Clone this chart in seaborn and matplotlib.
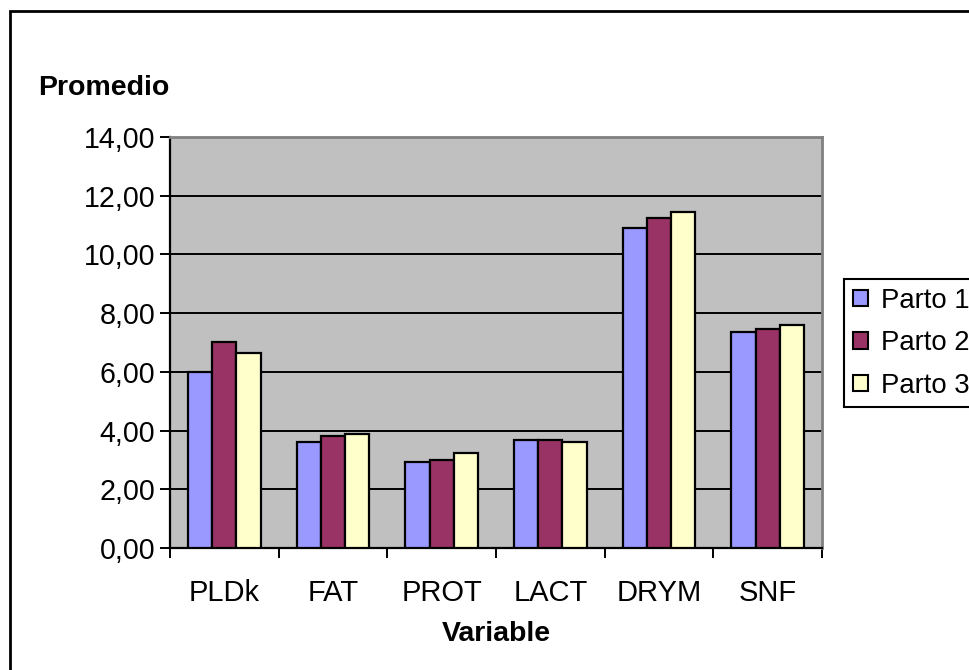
import matplotlib
matplotlib.use("Agg")
import matplotlib.pyplot as plt
import seaborn as sns
import pandas as pd
from matplotlib.patches import Rectangle
from matplotlib.ticker import FuncFormatter, FixedLocator

categories = ["PLDk", "FAT", "PROT", "LACT", "DRYM", "SNF"]
series_names = ["Parto 1", "Parto 2", "Parto 3"]
parto1 = [6.00, 3.62, 2.94, 3.69, 10.91, 7.37]
parto2 = [7.02, 3.83, 3.01, 3.68, 11.25, 7.45]
parto3 = [6.63, 3.89, 3.22, 3.62, 11.45, 7.59]
colors = ["#9999FF", "#993366", "#FFFFCC"]
yticks = [0, 2, 4, 6, 8, 10, 12, 14]

rows = []
for name, vals in zip(series_names, [parto1, parto2, parto3]):
    for c, v in zip(categories, vals):
        rows.append({"Variable": c, "Serie": name, "Promedio": v})
df = pd.DataFrame(rows)

sns.set_style("white")
plt.rcParams["font.family"] = ["Liberation Sans", "DejaVu Sans"]
plt.rcParams["text.color"] = "black"
plt.rcParams["xtick.color"] = "black"
plt.rcParams["ytick.color"] = "black"
plt.rcParams["axes.labelcolor"] = "black"

fig = plt.figure(figsize=(9.7, 6.7), dpi=100)
fig.patch.set_facecolor("white")
ax = fig.add_axes([170 / 970, 1 - 548 / 670, (822 - 170) / 970, (548 - 137) / 670])

sns.barplot(data=df, x="Variable", y="Promedio", hue="Serie", order=categories,
            hue_order=series_names, palette=colors, saturation=1, width=2 / 3, gap=0,
            edgecolor="black", linewidth=1.6, errorbar=None, ax=ax, zorder=3)

ax.set_facecolor("#C0C0C0")
ax.set_ylim(0, 14)
ax.set_xlim(-0.5, len(categories) - 0.5)
ax.set_yticks(yticks)
ax.yaxis.set_major_formatter(FuncFormatter(lambda v, p: f"{v:.2f}".replace(".", ",")))
ax.grid(axis="y", color="black", linewidth=1.4, zorder=1)
ax.set_axisbelow(True)
ax.set_xlabel("")
ax.set_ylabel("")

ax.tick_params(axis="y", which="major", direction="out", length=7, width=1.4,
               color="black", labelcolor="black", labelsize=20.6, pad=3.5, left=True)
ax.tick_params(axis="x", which="major", length=0, labelsize=21, labelcolor="black", pad=22)
ax.xaxis.set_minor_locator(FixedLocator([i - 0.5 for i in range(len(categories) + 1)]))
ax.tick_params(axis="x", which="minor", direction="out", length=7, width=1.4,
               color="black", bottom=True)

for s in ["left", "bottom"]:
    ax.spines[s].set_color("black")
    ax.spines[s].set_linewidth(1.6)
for s in ["top", "right"]:
    ax.spines[s].set_color("#808080")
    ax.spines[s].set_linewidth(2)
    ax.spines[s].set_visible(True)

leg = ax.get_legend()
if leg is not None:
    leg.remove()
handles = [Rectangle((0, 0), 1, 1, facecolor=c, edgecolor="black", linewidth=1.5) for c in colors]
fig.legend(handles, series_names, loc="upper left",
           bbox_to_anchor=(844 / 970, 1 - 279 / 670), bbox_transform=fig.transFigure,
           borderaxespad=0, fontsize=19.8, frameon=True, fancybox=False,
           edgecolor="black", framealpha=1, handlelength=0.55, handleheight=0.55,
           handletextpad=0.5, labelspacing=0.6, borderpad=0.31, labelcolor="black")
fig.legends[0].get_frame().set_linewidth(1.5)

fig.text(38 / 970, 1 - 88 / 670, "Promedio", fontsize=20.5, fontweight="bold",
         ha="left", va="center", color="black")
fig.text(496 / 970, 1 - 634 / 670, "Variable", fontsize=20.5, fontweight="bold",
         ha="center", va="center", color="black")

border = Rectangle((10 / 970, -0.2), 1.2, 1.2 - 11 / 670, transform=fig.transFigure,
                   fill=False, edgecolor="black", linewidth=2, clip_on=False)
fig.patches.append(border)

fig.savefig("out.png", dpi=100)
